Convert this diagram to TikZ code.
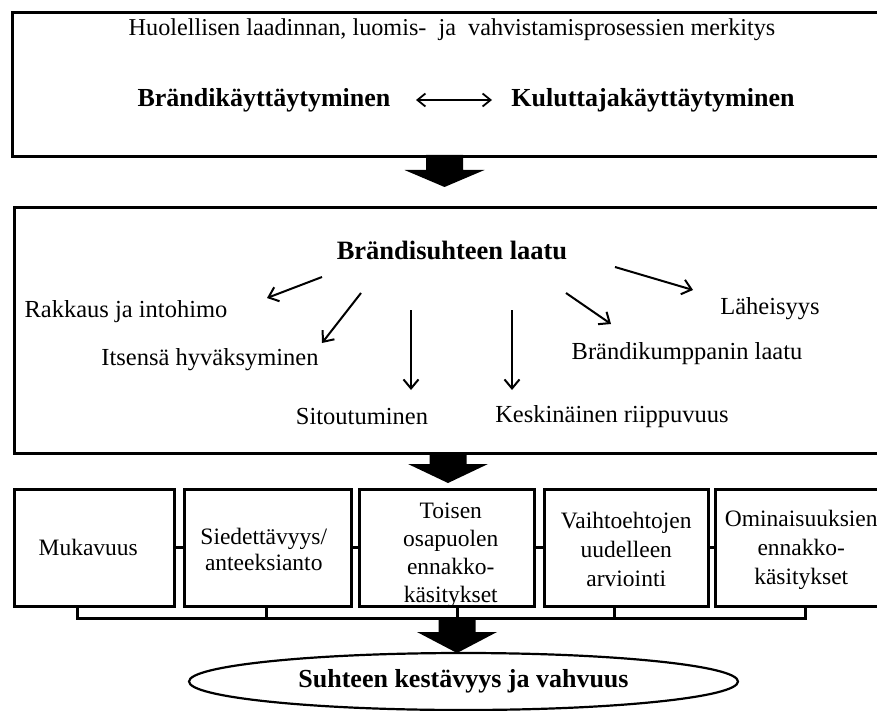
\documentclass[tikz,border=0pt]{standalone}
\usepackage{fontspec}
\setmainfont{Liberation Serif}
\usetikzlibrary{arrows.meta,calc,shapes.geometric}

% filled block arrow: start of shaft, tip, head length
\newcommand\blockarrow[3]{%
  \fill let \p1=(#1), \p2=(#2) in
    (\x1-18.5pt,\y1) -- (\x1+18.5pt,\y1) -- (\x1+18.5pt,\y2+#3) -- (\x1+40pt,\y2+#3)
    -- (\x1,\y2) -- (\x1-40pt,\y2+#3) -- (\x1-18.5pt,\y2+#3) -- cycle;}

\begin{document}
\begin{tikzpicture}[x=1pt,y=-1pt,
  panel/.style={draw, line width=2.6pt, rectangle, inner sep=0pt, anchor=north west},
  factor/.style={draw, line width=2.5pt, rectangle, inner sep=0pt, anchor=north west,
    minimum height=117pt},
  lbl/.style={font=\fontsize{24.5}{28}\selectfont, inner sep=0pt},
  boxtext/.style={align=center, inner sep=0pt, font=\fontsize{23.5}{#1}\selectfont},
  boxtext/.default=28,
  hd/.style={font=\fontsize{26}{30}\selectfont\bfseries, inner sep=0pt},
  ray/.style={line width=2pt, -{Straight Barb[length=9pt,width=15pt]}},
  link/.style={line width=3pt},
  bracket/.style={line width=3pt}]

\clip (0,0) rectangle (877,711);
\fill[white] (0,0) rectangle (877,711);

% top panel
\node[panel, minimum width=879pt, minimum height=144pt] (top) at (11,11) {};
\node[inner sep=0pt, font=\fontsize{24.2}{28}\selectfont] (intro) at (452,30)
  {Huolellisen laadinnan, luomis-\ \ ja\ \ vahvistamisprosessien merkitys};
\node[hd, anchor=base] (brand) at (264,107) {Brändikäyttäytyminen};
\node[hd, anchor=base] (cons) at (653,107) {Kuluttajakäyttäytyminen};
\coordinate (la) at (416,100);
\coordinate (ra) at (492,100);
\draw[line width=1.8pt, {Straight Barb[length=8pt,width=13pt]}-{Straight Barb[length=8pt,width=13pt]}] (la) -- (ra);

% arrow into the middle panel
\coordinate (s1) at (444.5,155);
\coordinate (t1) at (444.5,187);
\blockarrow{s1}{t1}{17pt}

% middle panel
\node[panel, minimum width=877pt, minimum height=246pt] (mid) at (13,206) {};
\node[hd, font=\fontsize{26.5}{30}\selectfont\bfseries] (quality) at (452,250) {Brändisuhteen laatu};
\node[lbl] (love) at (126,312) {Rakkaus ja intohimo};
\node[lbl] (self) at (210,360) {Itsensä hyväksyminen};
\node[lbl] (commit) at (362,417) {Sitoutuminen};
\node[lbl] (inter) at (612,417) {Keskinäinen riippuvuus};
\node[lbl] (partner) at (687,354) {Brändikumppanin laatu};
\node[lbl] (close) at (770,309) {Läheisyys};

\coordinate (r1a) at (322,277); \coordinate (r1b) at (267,298);
\coordinate (r2a) at (361,293); \coordinate (r2b) at (322,343);
\coordinate (r3a) at (411,310); \coordinate (r3b) at (411,390);
\coordinate (r4a) at (512,310); \coordinate (r4b) at (512,390);
\coordinate (r5a) at (566,293); \coordinate (r5b) at (611,324);
\coordinate (r6a) at (615,267); \coordinate (r6b) at (693,290);
\draw[ray] (r1a) -- (r1b);
\draw[ray] (r2a) -- (r2b);
\draw[ray] (r3a) -- (r3b);
\draw[ray] (r4a) -- (r4b);
\draw[ray] (r5a) -- (r5b);
\draw[ray] (r6a) -- (r6b);

% arrow into the row of factors
\coordinate (s2) at (448,452);
\coordinate (t2) at (448,483);
\blockarrow{s2}{t2}{19pt}

% row of factors
\node[factor, minimum width=160pt] (b1) at (13,488) {};
\node[factor, minimum width=167pt] (b2) at (183,488) {};
\node[factor, minimum width=175pt] (b3) at (358,488) {};
\node[factor, minimum width=164pt] (b4) at (543,488) {};
\node[factor, minimum width=178pt] (b5) at (714,488) {};
\node[boxtext] (f1) at ($(b1.center)+(-6,0)$) {Mukavuus};
\node[boxtext=26] (f2) at ($(b2.center)+(-4,2)$) {Siedettävyys/\\anteeksianto};
\node[boxtext] (f3) at ($(b3.center)+(4,7)$) {Toisen\\osapuolen\\ennakko-\\käsitykset};
\node[boxtext=29] (f4) at ($(b4.center)+(0,2)$) {Vaihtoehtojen\\uudelleen\\arviointi};
\node[boxtext=29] (f5) at ($(b5.center)+(-3,2)$) {Ominaisuuksien\\ennakko-\\käsitykset};
\draw[link] (b1) -- (b2);
\draw[link] (b2) -- (b3);
\draw[link] (b3) -- (b4);
\draw[link] (b4) -- (b5);

% bracket joining the factors
\coordinate (j1) at (77,618);
\coordinate (j2) at (266,618);
\coordinate (j3) at (457,618);
\coordinate (j4) at (614,618);
\coordinate (j5) at (805,618);
\draw[bracket] (b1.south -| j1) -- (j1) -- (j5) -- (b5.south -| j5);
\draw[bracket] (b2.south -| j2) -- (j2);
\draw[bracket] (b3.south -| j3) -- (j3);
\draw[bracket] (b4.south -| j4) -- (j4);

% outcome
\node[ellipse, draw, line width=2.2pt, minimum width=549pt, minimum height=57pt, inner sep=0pt,
  font=\fontsize{26}{30}\selectfont\bfseries] (out) at (463.5,681.5) {Suhteen kestävyys ja vahvuus};
\coordinate (t3) at (457,653);
\blockarrow{j3}{t3}{21pt}
\end{tikzpicture}
\end{document}
